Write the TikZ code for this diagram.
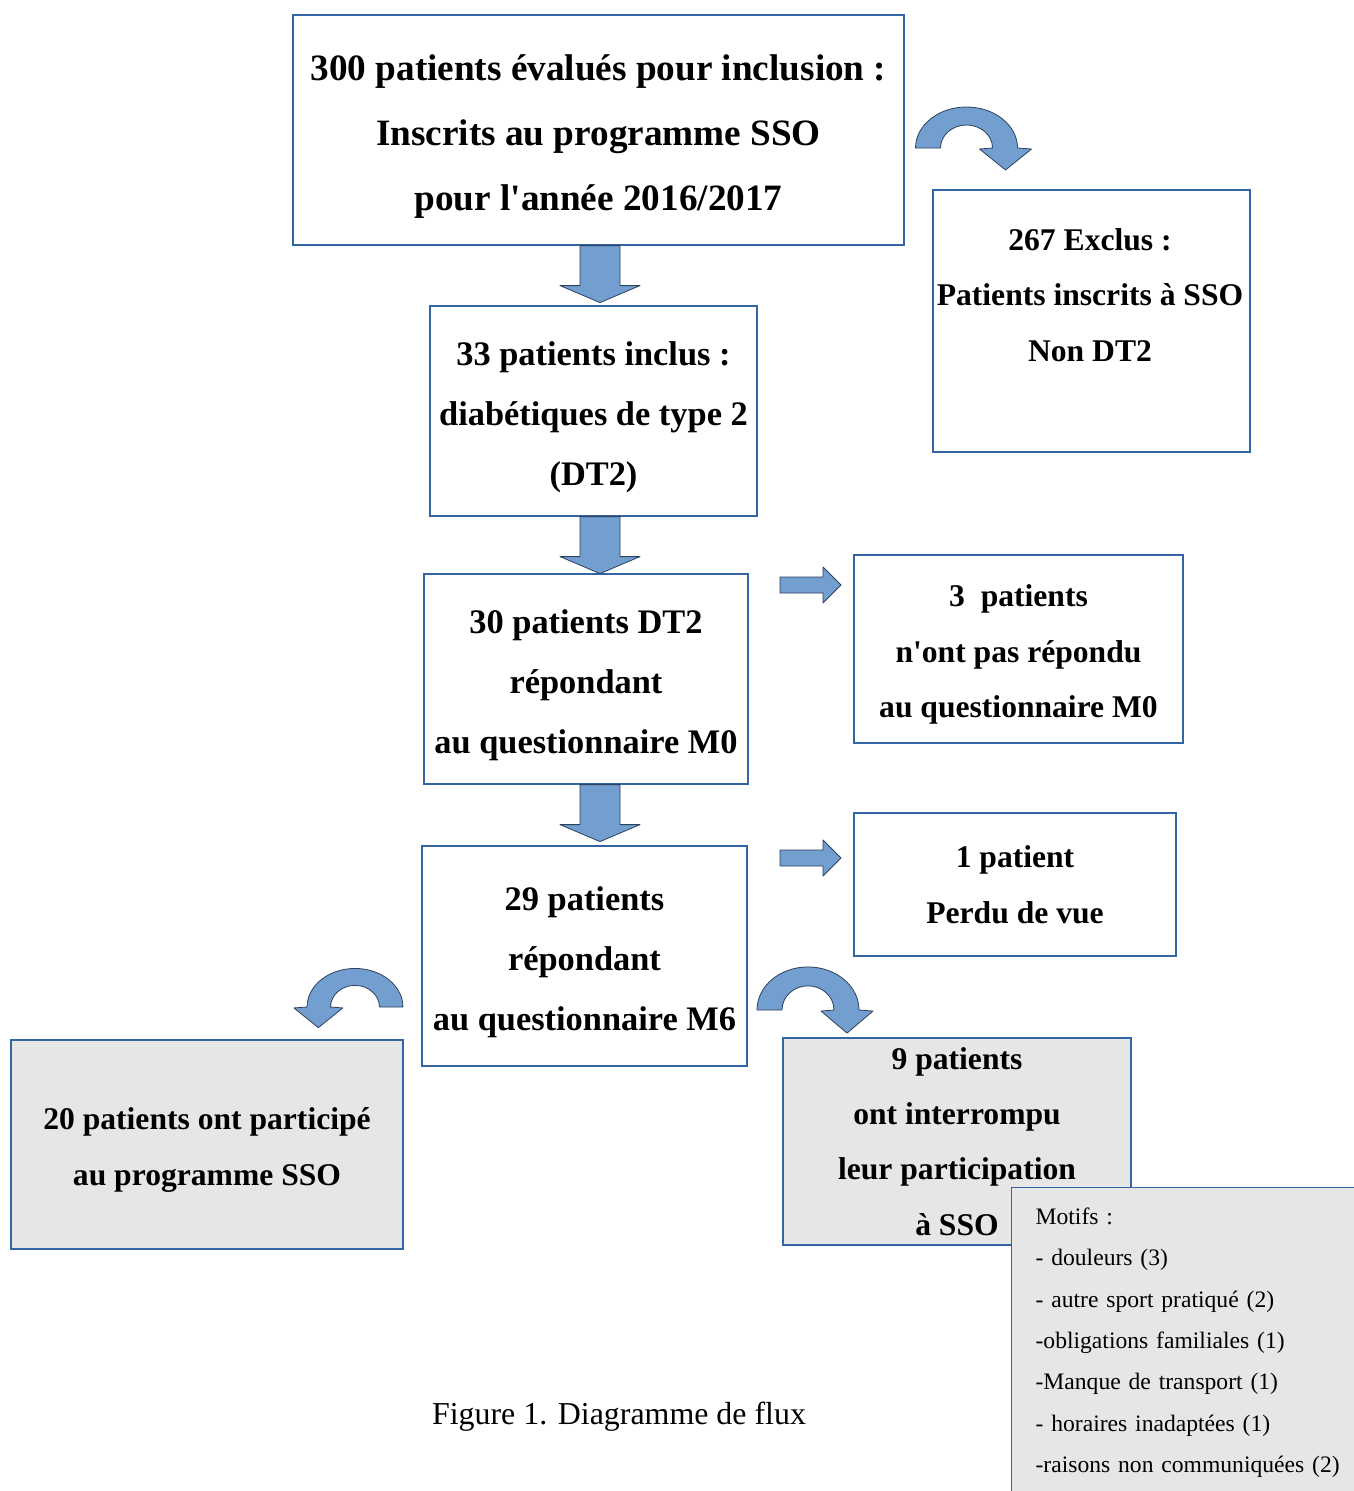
\documentclass[tikz,border=0pt]{standalone}
\usepackage{fontspec}
\setmainfont{Liberation Serif}
\usetikzlibrary{positioning, calc}
\definecolor{boxblue}{RGB}{52, 101, 164}
\definecolor{arrowfill}{RGB}{114, 159, 207}
\definecolor{arrowline}{RGB}{45, 65, 95}
\definecolor{boxgrey}{RGB}{230, 230, 230}
\newcommand{\bigbold}{\fontsize{37.2}{65}\selectfont\bfseries}
\newcommand{\midbold}{\fontsize{34.4}{59.7}\selectfont\bfseries}
\newcommand{\smallbold}{\fontsize{31.6}{55.5}\selectfont\bfseries}
\newcommand{\motiffont}{\fontsize{23.6}{41.3}\selectfont}
\newcommand{\figcapfont}{\fontsize{31.9}{38}\selectfont}
\newcommand{\firststrut}{\rule{0pt}{1.05em}}

\begin{document}
\begin{tikzpicture}[x=1pt, y=-1pt,
  box/.style={draw=boxblue, line width=1.2pt, align=center, inner sep=0pt},
  greybox/.style={box, fill=boxgrey},
  arrowshape/.style={fill=arrowfill, draw=arrowline, line width=0.8pt, line join=round},
  downarrow/.pic={\filldraw[arrowshape] (-20,0) -- (20,0) -- (20,40) -- (40,40) -- (0,57) -- (-40,40) -- (-20,40) -- cycle;},
  rightarrow/.pic={\filldraw[arrowshape] (0,-8) -- (43,-8) -- (43,-18) -- (61,0) -- (43,18) -- (43,8) -- (0,8) -- cycle;},
  bentarrow/.pic={\filldraw[arrowshape] (-51,0) arc[start angle=180, end angle=360, x radius=51, y radius=41]
      -- (65,1) -- (39,22) -- (13,1) -- (26,0) arc[start angle=0, end angle=-180, x radius=26, y radius=23] -- cycle;}]
  \useasboundingbox (0,0) rectangle (1354,1491);
  \coordinate (axis) at (600,0);

  % Main column
  \node[box, font=\bigbold, minimum width=611pt, minimum height=230pt] (eval) at (598.5,130) {
    \firststrut 300 patients évalués pour inclusion :\\
    Inscrits au programme SSO\\
    pour l\textquotesingle année 2016/2017};

  \node[box, font=\midbold, minimum width=327pt, minimum height=210pt] (inclus) at (593.5,411) {
    \firststrut 33 patients inclus :\\
    diabétiques de type 2\\
    (DT2)};

  \node[box, font=\midbold, minimum width=324pt, minimum height=210pt] (m0) at (586,679) {
    \firststrut 30 patients DT2\\
    répondant\\
    au questionnaire M0};

  \node[box, font=\midbold, minimum width=325pt, minimum height=220pt] (m6) at (584.5,956) {
    \firststrut 29 patients\\
    répondant\\
    au questionnaire M6};

  % Side boxes
  \node[box, minimum width=317pt, minimum height=262pt] (exclus) at (1091.5,321) {};
  \node[font=\smallbold, align=center] (exclustxt) at (1090,295) {
    267 Exclus :\\
    Patients inscrits à SSO\\
    Non DT2};

  \node[box, font=\smallbold, minimum width=329pt, minimum height=188pt] (nonrep) at (1018.5,649) {
    \firststrut 3~~patients\\
    n\textquotesingle ont pas répondu\\
    au questionnaire M0};

  \node[box, font=\smallbold, minimum width=322pt, minimum height=143pt] (perdu) at (1015,884.5) {
    1 patient\\
    Perdu de vue};

  \node[greybox, font=\smallbold, minimum width=392pt, minimum height=209pt] (particip) at (207,1144.5) {
    \firststrut 20 patients ont participé\\
    au programme SSO};

  \node[greybox, font=\fontsize{31.6}{55.3}\selectfont\bfseries, minimum width=348pt, minimum height=207pt] (interromp) at (957,1141.5) {
    9 patients\\
    ont interrompu\\
    leur participation\\
    à SSO};

  \node[greybox, anchor=north west, minimum width=360pt, minimum height=310pt, text width=312pt,
        align=left, inner xsep=24pt, font=\motiffont] (motifs) at (1011,1187) {
    Motifs :\\
    - douleurs (3)\\
    - autre sport pratiqué (2)\\
    -obligations familiales (1)\\
    -Manque de transport (1)\\
    - horaires inadaptées (1)\\
    -raisons non communiquées (2)};

  % Block arrows
  \pic at (axis |- eval.south) {downarrow};
  \pic at (axis |- inclus.south) {downarrow};
  \pic at (axis |- m0.south) {downarrow};
  \pic at (780,585) {rightarrow};
  \pic at (780,858) {rightarrow};
  \pic at (966.5,148) {bentarrow};
  \pic[xscale=-0.94, yscale=0.94] at (355,1007) {bentarrow};
  \pic[yscale=1.05] at (808,1010) {bentarrow};

  % Caption
  \node[font=\figcapfont] (caption) at (619,1417) {Figure 1. Diagramme de flux};
\end{tikzpicture}
\end{document}
